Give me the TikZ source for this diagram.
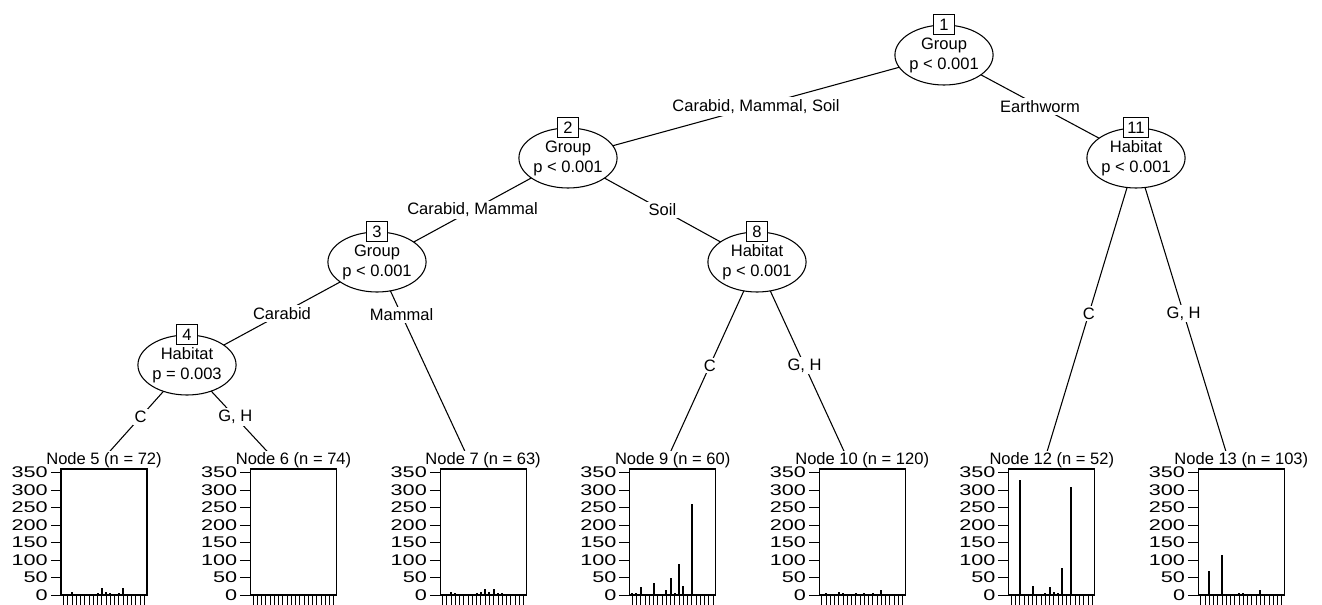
\documentclass[tikz,border=0pt]{standalone}
\usepackage{fontspec}
\setmainfont{Liberation Sans}
\usetikzlibrary{shapes.geometric,backgrounds}

% two centred lines inside an inner node
\newcommand{\twoline}[2]{\raisebox{-2.6pt}{\begin{tabular}{@{}c@{}}#1\\#2\end{tabular}}}

% terminal node: #1 id, #2 left edge of the plot box, #3 n, #4 bar heights
\newcommand{\termpanel}[4]{%
  \node[ttl] (h#1) at (#2+43,460.5) {Node #1 (n = #3)};
  \coordinate (t#1) at (#2+33,469);
  \draw[frame] (#2,469) rectangle (#2+86,595);
  \foreach \yv in {0,50,...,350}{%
    \draw[tick] (#2,595-0.35*\yv) -- ++(-10.5,0);
    \node[ylab] at (#2-13,595-0.35*\yv) {\scalebox{1.4}[1]{\yv}};}
  \foreach \kk in {0,...,19}{\draw[tick] (#2+2.5+4.26*\kk,595) -- ++(0,10);}
  \foreach \hv [count=\kk from 0] in {#4}{\draw[bar] (#2+2.5+4.26*\kk,595) -- ++(0,-0.35*\hv);}
}

\begin{document}
\begin{tikzpicture}[x=0.75pt,y=-0.75pt,
  every node/.style={font=\fontsize{12.4pt}{15pt}\selectfont},
  inner/.style={ellipse,draw,fill=white,line width=0.8pt,minimum width=69pt,minimum height=45pt,inner sep=0pt,align=center},
  numbox/.style={draw,fill=white,line width=0.8pt,minimum width=15.75pt,minimum height=15pt,inner xsep=2.6pt,inner ysep=0pt},
  edge/.style={line width=0.8pt},
  elabel/.style={fill=white,inner sep=1.5pt},
  frame/.style={line width=0.8pt},
  bar/.style={line width=1.5pt},
  tick/.style={line width=0.7pt},
  ylab/.style={anchor=east,inner sep=0pt,font=\fontsize{11.6pt}{12pt}\selectfont},
  ttl/.style={fill=white,inner sep=1.5pt}]
\useasboundingbox (0,0) rectangle (1322,604);

% inner nodes
\node[inner] (n1) at (944,55) {\twoline{Group}{p < 0.001}};
\node[numbox] (b1) at (n1.north) {1};
\node[inner] (n2) at (568,158) {\twoline{Group}{p < 0.001}};
\node[numbox] (b2) at (n2.north) {2};
\node[inner] (n11) at (1136,158) {\twoline{Habitat}{p < 0.001}};
\node[numbox] (b11) at (n11.north) {11};
\node[inner] (n3) at (377,262) {\twoline{Group}{p < 0.001}};
\node[numbox] (b3) at (n3.north) {3};
\node[inner] (n8) at (757,262) {\twoline{Habitat}{p < 0.001}};
\node[numbox] (b8) at (n8.north) {8};
\node[inner] (n4) at (187,365) {\twoline{Habitat}{p = 0.003}};
\node[numbox] (b4) at (n4.north) {4};

% terminal nodes
\termpanel{5}{61}{72}{3,2,8,4,3,2,3,1,5,20,8,5,4,6,20,0,0,0,0,0}
\termpanel{6}{250.5}{74}{2,3,2,2,3,3,2,4,3,3,2,3,4,3,3,2,0,0,0,0}
\termpanel{7}{440.1}{63}{3,4,10,5,4,4,3,3,5,8,18,8,16,7,6,4,3,3,4,0}
\termpanel{9}{629.7}{60}{5,5,22,3,3,33,3,3,15,50,5,88,25,0,260,3,0,0,0,0}
\termpanel{10}{819.2}{120}{3,5,4,3,8,5,4,3,7,4,5,3,5,0,15,0,0,0,0,0}
\termpanel{12}{1008.8}{52}{3,0,328,0,3,25,3,0,5,22,10,5,78,3,310,0,0,0,0,0}
\termpanel{13}{1198.3}{103}{3,0,70,0,0,115,0,0,3,5,7,4,3,4,15,0,0,0,0,0}

% edges with split labels
\begin{scope}[on background layer]
\draw[edge] (n1.center) -- node[elabel]{Carabid, Mammal, Soil} (n2.center);
\draw[edge] (n1.center) -- node[elabel]{Earthworm} (n11.center);
\draw[edge] (n2.center) -- node[elabel]{Carabid, Mammal} (n3.center);
\draw[edge] (n2.center) -- node[elabel]{Soil} (n8.center);
\draw[edge] (n3.center) -- node[elabel]{Carabid} (n4.center);
\draw[edge] (n3.center) -- node[elabel,pos=0.256]{Mammal} (t7);
\draw[edge] (n4.center) -- node[elabel]{C} (t5);
\draw[edge] (n4.center) -- node[elabel]{G, H} (t6);
\draw[edge] (n8.center) -- node[elabel]{C} (t9);
\draw[edge] (n8.center) -- node[elabel]{G, H} (t10);
\draw[edge] (n11.center) -- node[elabel]{C} (t12);
\draw[edge] (n11.center) -- node[elabel]{G, H} (t13);
\end{scope}
\end{tikzpicture}
\end{document}
